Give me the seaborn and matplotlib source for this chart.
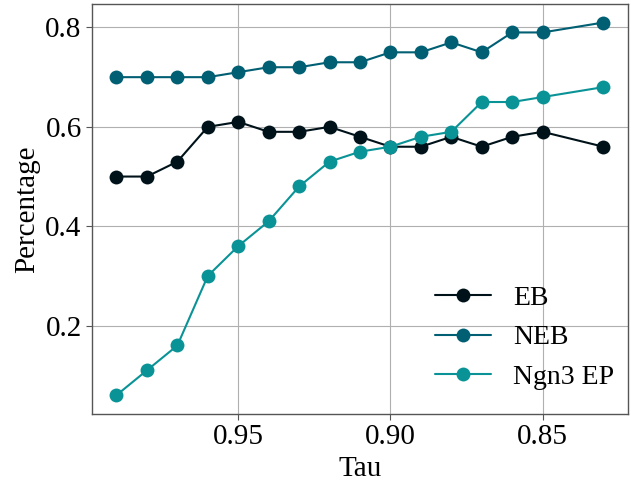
import seaborn as sns
import matplotlib.pyplot as plt
import pandas as pd

tau = [0.99, 0.98, 0.97, 0.96, 0.95, 0.94, 0.93, 0.92, 0.91, 0.90,
       0.89, 0.88, 0.87, 0.86, 0.85, 0.83]
eb = [0.50, 0.50, 0.53, 0.60, 0.61, 0.59, 0.59, 0.60, 0.58, 0.56,
      0.56, 0.58, 0.56, 0.58, 0.59, 0.56]
neb = [0.70, 0.70, 0.70, 0.70, 0.71, 0.72, 0.72, 0.73, 0.73, 0.75,
       0.75, 0.77, 0.75, 0.79, 0.79, 0.81]
ngn3_ep = [0.06, 0.11, 0.16, 0.30, 0.36, 0.41, 0.48, 0.53, 0.55, 0.56,
           0.58, 0.59, 0.65, 0.65, 0.66, 0.68]
groups = ['EB', 'NEB', 'Ngn3 EP']
colors = ['#001219', '#005f73', '#0a9396']
xticks = [0.95, 0.90, 0.85]

df = pd.DataFrame({'Tau': tau * 3,
                   'Percentage': eb + neb + ngn3_ep,
                   'group': [g for g in groups for _ in tau]})

sns.set_style('whitegrid')
plt.rcParams['font.family'] = ['Liberation Serif', 'DejaVu Serif']
plt.rcParams['text.color'] = 'black'
fs = 21

fig, ax = plt.subplots(figsize=(6.31, 4.84), dpi=100)
sns.lineplot(data=df, x='Tau', y='Percentage', hue='group', palette=colors,
             marker='o', markersize=10, markeredgewidth=0, linewidth=1.5, ax=ax)

ax.invert_xaxis()
ax.set_xticks(xticks)
ax.set_xticklabels([f'{t:.2f}' for t in xticks])
ax.set_yticks([0.2, 0.4, 0.6, 0.8])
ax.tick_params(labelsize=fs, length=4, color='#555555', labelcolor='black',
               bottom=True, left=True)
ax.set_xlabel('Tau', fontsize=fs, color='black')
ax.set_ylabel('Percentage', fontsize=fs, color='black')
ax.grid(color='#b0b0b0', linewidth=0.8)
for s in ax.spines.values():
    s.set_color('#555555')
    s.set_linewidth(1.0)

ax.legend(loc='lower right', bbox_to_anchor=(1.0, 0.025), frameon=False,
          fontsize=20, title=None, labelcolor='black', borderaxespad=0.1,
          labelspacing=0.5)

fig.subplots_adjust(left=0.146, right=0.995, bottom=0.145, top=0.992)
plt.savefig('out.png')
